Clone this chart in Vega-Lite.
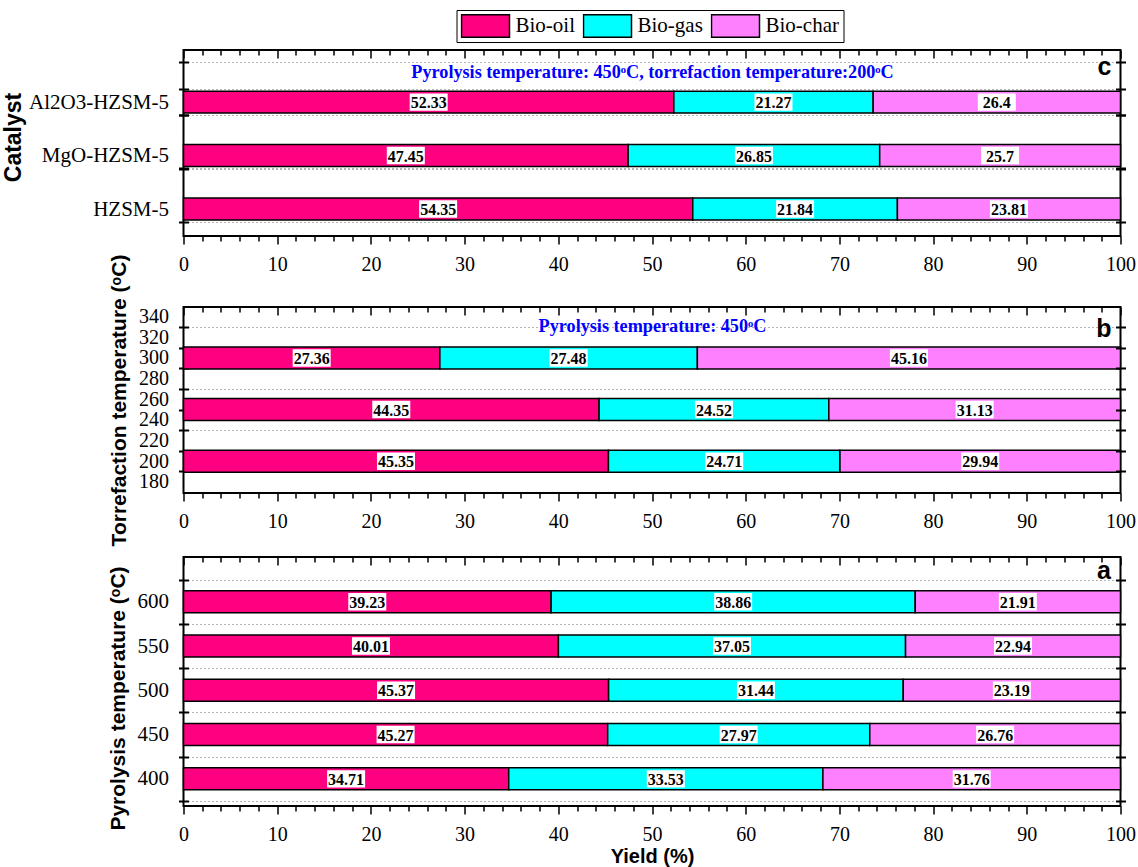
{
  "$schema": "https://vega.github.io/schema/vega-lite/v6.json",
  "background": "white",
  "padding": {"left": 1.5, "top": 9, "right": 2, "bottom": 2},
  "datasets": {
    "cat": [
      {"catalyst": "Al2O3-HZSM-5", "product": "Bio-oil", "yield": 52.33},
      {"catalyst": "Al2O3-HZSM-5", "product": "Bio-gas", "yield": 21.27},
      {"catalyst": "Al2O3-HZSM-5", "product": "Bio-char", "yield": 26.4},
      {"catalyst": "MgO-HZSM-5", "product": "Bio-oil", "yield": 47.45},
      {"catalyst": "MgO-HZSM-5", "product": "Bio-gas", "yield": 26.85},
      {"catalyst": "MgO-HZSM-5", "product": "Bio-char", "yield": 25.7},
      {"catalyst": "HZSM-5", "product": "Bio-oil", "yield": 54.35},
      {"catalyst": "HZSM-5", "product": "Bio-gas", "yield": 21.84},
      {"catalyst": "HZSM-5", "product": "Bio-char", "yield": 23.81}
    ],
    "torr": [
      {"T": 200, "product": "Bio-oil", "yield": 45.35},
      {"T": 200, "product": "Bio-gas", "yield": 24.71},
      {"T": 200, "product": "Bio-char", "yield": 29.94},
      {"T": 250, "product": "Bio-oil", "yield": 44.35},
      {"T": 250, "product": "Bio-gas", "yield": 24.52},
      {"T": 250, "product": "Bio-char", "yield": 31.13},
      {"T": 300, "product": "Bio-oil", "yield": 27.36},
      {"T": 300, "product": "Bio-gas", "yield": 27.48},
      {"T": 300, "product": "Bio-char", "yield": 45.16}
    ],
    "pyro": [
      {"T": 400, "product": "Bio-oil", "yield": 34.71},
      {"T": 400, "product": "Bio-gas", "yield": 33.53},
      {"T": 400, "product": "Bio-char", "yield": 31.76},
      {"T": 450, "product": "Bio-oil", "yield": 45.27},
      {"T": 450, "product": "Bio-gas", "yield": 27.97},
      {"T": 450, "product": "Bio-char", "yield": 26.76},
      {"T": 500, "product": "Bio-oil", "yield": 45.37},
      {"T": 500, "product": "Bio-gas", "yield": 31.44},
      {"T": 500, "product": "Bio-char", "yield": 23.19},
      {"T": 550, "product": "Bio-oil", "yield": 40.01},
      {"T": 550, "product": "Bio-gas", "yield": 37.05},
      {"T": 550, "product": "Bio-char", "yield": 22.94},
      {"T": 600, "product": "Bio-oil", "yield": 39.23},
      {"T": 600, "product": "Bio-gas", "yield": 38.86},
      {"T": 600, "product": "Bio-char", "yield": 21.91}
    ]
  },
  "bounds": "flush",
  "spacing": 71,
  "vconcat": [
    {
      "width": 937,
      "height": 186,
      "data": {"name": "cat"},
      "resolve": {"axis": {"x": "independent", "y": "independent"}},
      "layer": [
        {
          "mark": {"type": "bar", "stroke": "black", "strokeWidth": 1.5, "height": {"band": 0.82}},
          "encoding": {
            "x": {"field": "yield", "type": "quantitative", "stack": "zero",
              "scale": {"domain": [0, 100], "nice": false},
              "axis": {"orient": "bottom", "values": [0,2,4,6,8,10,12,14,16,18,20,22,24,26,28,30,32,34,36,38,40,42,44,46,48,50,52,54,56,58,60,62,64,66,68,70,72,74,76,78,80,82,84,86,88,90,92,94,96,98,100],
                "tickSize": {"condition": {"test": "datum.value % 10 === 0", "value": 8}, "value": 5},
                "tickWidth": 1.5, "labelExpr": "datum.value % 10 === 0 ? datum.label : ''",
                "labelFontSize": 20, "labelPadding": 10, "grid": false, "title": null, "zindex": 1}},
            "y": {"field": "catalyst", "type": "nominal", "sort": ["Al2O3-HZSM-5", "MgO-HZSM-5", "HZSM-5"],
              "scale": {"paddingInner": 0.5, "paddingOuter": 0.49, "align": 0.74},
              "axis": {"orient": "left", "tickBand": "extent", "offset": -5, "tickSize": 10, "tickWidth": 2,
                "labelFontSize": 21, "labelPadding": 10, "grid": true,
                "title": "Catalyst", "titleFontSize": 23, "titlePadding": 3, "titleY": 87}},
            "color": {"field": "product", "type": "nominal",
              "scale": {"domain": ["Bio-oil", "Bio-gas", "Bio-char"], "range": ["#FF0080", "#00FFFF", "#FF80FF"]},
              "legend": {"orient": "none", "legendX": 273, "legendY": -40, "direction": "horizontal", "title": null,
                "symbolType": "M-1,-0.47H1V0.47H-1Z", "symbolSize": 2304, "clipHeight": 24, "symbolStrokeColor": "black",
                "symbolStrokeWidth": 1.5, "symbolOpacity": 1, "labelFont": "Liberation Serif", "labelFontSize": 21,
                "labelColor": "black", "labelOffset": 5, "columnPadding": 7, "padding": 4,
                "strokeColor": "black", "labelLimit": 300}},
            "order": {"field": "product", "sort": "descending"}
          }
        },
        {
          "mark": {"type": "point", "shape": "M-1,-0.46H1V0.46H-1Z", "size": 1444, "filled": true, "color": "white", "opacity": 1, "strokeWidth": 0},
          "encoding": {
            "x": {"field": "yield", "type": "quantitative", "stack": "zero", "bandPosition": 0.5,
              "axis": {"orient": "top", "values": [0,2,4,6,8,10,12,14,16,18,20,22,24,26,28,30,32,34,36,38,40,42,44,46,48,50,52,54,56,58,60,62,64,66,68,70,72,74,76,78,80,82,84,86,88,90,92,94,96,98,100],
                "tickSize": {"condition": {"test": "datum.value % 10 === 0", "value": -8}, "value": -5},
                "tickWidth": 1.5, "labels": false, "grid": false, "zindex": 1,
                "title": "Pyrolysis temperature: 450ᵒC, torrefaction temperature:200ᵒC",
                "titleColor": "#0000FF", "titleFont": "Liberation Serif", "titleFontSize": 18.2,
                "titleY": 22.5, "titleBaseline": "middle"}},
            "y": {"field": "catalyst", "type": "nominal", "sort": ["Al2O3-HZSM-5", "MgO-HZSM-5", "HZSM-5"],
              "axis": {"orient": "right", "tickBand": "extent", "offset": -5, "tickSize": 10, "tickWidth": 2,
                "labels": false, "grid": false, "zindex": 1,
                "title": "c", "titleAngle": 0, "titleFontSize": 25, "titleX": -11.5, "titleY": 24,
                "titleBaseline": "alphabetic", "titleAlign": "center"}},
            "detail": {"field": "product"},
            "order": {"field": "product", "sort": "descending"}
          }
        },
        {
          "mark": {"type": "text", "font": "Liberation Serif", "fontWeight": "bold", "fontSize": 16, "color": "black", "baseline": "middle", "dy": 1},
          "encoding": {
            "x": {"field": "yield", "type": "quantitative", "stack": "zero", "bandPosition": 0.5, "axis": null},
            "y": {"field": "catalyst", "type": "nominal", "sort": ["Al2O3-HZSM-5", "MgO-HZSM-5", "HZSM-5"],
              "axis": {"orient": "left", "bandPosition": -1, "offset": -5, "tickSize": 10, "tickWidth": 2,
                "labels": false, "grid": true, "title": null}},
            "detail": {"field": "product"},
            "order": {"field": "product", "sort": "descending"},
            "text": {"field": "yield", "type": "nominal"}
          }
        },
        {
          "mark": {"type": "point", "opacity": 0},
          "encoding": {
            "y": {"field": "catalyst", "type": "nominal", "sort": ["Al2O3-HZSM-5", "MgO-HZSM-5", "HZSM-5"],
              "axis": {"orient": "right", "bandPosition": -1, "offset": -5, "tickSize": 10, "tickWidth": 2,
                "labels": false, "grid": false, "title": null, "zindex": 1}}
          }
        }
      ]
    },
    {
      "bounds": "flush",
      "spacing": 64,
      "vconcat": [
        {
          "width": 937,
          "height": 186,
          "data": {"name": "torr"},
          "resolve": {"axis": {"x": "independent", "y": "independent"}},
          "layer": [
            {
              "mark": {"type": "bar", "orient": "horizontal", "stroke": "black", "strokeWidth": 1.5, "height": 22},
              "encoding": {
                "x": {"field": "yield", "type": "quantitative", "stack": "zero",
                  "scale": {"domain": [0, 100], "nice": false},
                  "axis": {"orient": "bottom", "values": [0,2,4,6,8,10,12,14,16,18,20,22,24,26,28,30,32,34,36,38,40,42,44,46,48,50,52,54,56,58,60,62,64,66,68,70,72,74,76,78,80,82,84,86,88,90,92,94,96,98,100],
                    "tickSize": {"condition": {"test": "datum.value % 10 === 0", "value": 8}, "value": 5},
                    "tickWidth": 1.5, "labelExpr": "datum.value % 10 === 0 ? datum.label : ''",
                    "labelFontSize": 20, "labelPadding": 10, "grid": false, "title": null, "zindex": 1}},
                "y": {"field": "T", "type": "quantitative",
                  "scale": {"domain": [174, 344.5], "nice": false, "zero": false},
                  "axis": {"orient": "left", "values": [180,190,200,210,220,230,240,250,260,270,280,290,300,310,320,330,340],
                    "offset": -5, "tickSize": 10, "tickWidth": 2,
                    "tickOpacity": {"condition": {"test": "datum.value % 20 === 10", "value": 1}, "value": 0},
                    "labelExpr": "datum.value % 20 === 0 ? datum.label : ''",
                    "labelFontSize": 20, "labelPadding": 10, "grid": true,
                    "gridOpacity": {"condition": {"test": "datum.value % 20 === 10", "value": 1}, "value": 0},
                    "title": "Torrefaction temperature (ᵒC)", "titleFontSize": 21, "titlePadding": 9}},
                "color": {"field": "product", "type": "nominal",
                  "scale": {"domain": ["Bio-oil", "Bio-gas", "Bio-char"], "range": ["#FF0080", "#00FFFF", "#FF80FF"]}},
                "order": {"field": "product", "sort": "descending"}
              }
            },
            {
              "mark": {"type": "point", "shape": "M-1,-0.46H1V0.46H-1Z", "size": 1444, "filled": true, "color": "white", "opacity": 1, "strokeWidth": 0},
              "encoding": {
                "x": {"field": "yield", "type": "quantitative", "stack": "zero", "bandPosition": 0.5,
                  "axis": {"orient": "top", "values": [0,2,4,6,8,10,12,14,16,18,20,22,24,26,28,30,32,34,36,38,40,42,44,46,48,50,52,54,56,58,60,62,64,66,68,70,72,74,76,78,80,82,84,86,88,90,92,94,96,98,100],
                    "tickSize": {"condition": {"test": "datum.value % 10 === 0", "value": -8}, "value": -5},
                    "tickWidth": 1.5, "labels": false, "grid": false, "zindex": 1,
                    "title": "Pyrolysis temperature: 450ᵒC",
                    "titleColor": "#0000FF", "titleFont": "Liberation Serif", "titleFontSize": 18.2,
                    "titleY": 19, "titleBaseline": "middle"}},
                "y": {"field": "T", "type": "quantitative",
                  "axis": {"orient": "right", "values": [180,190,200,210,220,230,240,250,260,270,280,290,300,310,320,330,340],
                    "offset": -5, "tickSize": 10, "tickWidth": 2,
                    "tickOpacity": {"condition": {"test": "datum.value % 20 === 10", "value": 1}, "value": 0},
                    "labels": false, "grid": false, "zindex": 1,
                    "title": "b", "titleAngle": 0, "titleFontSize": 25, "titleX": -12, "titleY": 29.7,
                    "titleBaseline": "alphabetic", "titleAlign": "center"}},
                "detail": {"field": "product"},
                "order": {"field": "product", "sort": "descending"}
              }
            },
            {
              "mark": {"type": "text", "font": "Liberation Serif", "fontWeight": "bold", "fontSize": 16, "color": "black", "baseline": "middle", "dy": 1},
              "encoding": {
                "x": {"field": "yield", "type": "quantitative", "stack": "zero", "bandPosition": 0.5, "axis": null},
                "y": {"field": "T", "type": "quantitative", "axis": null},
                "detail": {"field": "product"},
                "order": {"field": "product", "sort": "descending"},
                "text": {"field": "yield", "type": "nominal"}
              }
            }
          ]
        },
        {
          "width": 937,
          "height": 249,
          "data": {"name": "pyro"},
          "resolve": {"axis": {"x": "independent", "y": "independent"}},
          "layer": [
            {
              "mark": {"type": "bar", "orient": "horizontal", "stroke": "black", "strokeWidth": 1.5, "height": 22},
              "encoding": {
                "x": {"field": "yield", "type": "quantitative", "stack": "zero",
                  "scale": {"domain": [0, 100], "nice": false},
                  "axis": {"orient": "bottom", "values": [0,2,4,6,8,10,12,14,16,18,20,22,24,26,28,30,32,34,36,38,40,42,44,46,48,50,52,54,56,58,60,62,64,66,68,70,72,74,76,78,80,82,84,86,88,90,92,94,96,98,100],
                    "tickSize": {"condition": {"test": "datum.value % 10 === 0", "value": 8}, "value": 5},
                    "tickWidth": 1.5, "labelExpr": "datum.value % 10 === 0 ? datum.label : ''",
                    "labelFontSize": 20, "labelPadding": 10, "grid": false, "zindex": 1,
                    "title": "Yield (%)", "titleFontSize": 20, "titlePadding": 2}},
                "y": {"field": "T", "type": "quantitative",
                  "scale": {"domain": [375, 645], "nice": false, "zero": false},
                  "axis": {"orient": "left", "values": [375,400,425,450,475,500,525,550,575,600,625],
                    "offset": -5, "tickSize": 10, "tickWidth": 2,
                    "tickOpacity": {"condition": {"test": "datum.value % 50 === 25", "value": 1}, "value": 0},
                    "labelExpr": "datum.value % 50 === 0 ? datum.label : ''",
                    "labelFontSize": 21, "labelPadding": 10, "grid": true,
                    "gridOpacity": {"condition": {"test": "datum.value % 50 === 25", "value": 1}, "value": 0},
                    "title": "Pyrolysis temperature (ᵒC)", "titleFontSize": 21, "titlePadding": 9, "titleY": 141}},
                "color": {"field": "product", "type": "nominal",
                  "scale": {"domain": ["Bio-oil", "Bio-gas", "Bio-char"], "range": ["#FF0080", "#00FFFF", "#FF80FF"]}},
                "order": {"field": "product", "sort": "descending"}
              }
            },
            {
              "mark": {"type": "point", "shape": "M-1,-0.46H1V0.46H-1Z", "size": 1444, "filled": true, "color": "white", "opacity": 1, "strokeWidth": 0},
              "encoding": {
                "x": {"field": "yield", "type": "quantitative", "stack": "zero", "bandPosition": 0.5,
                  "axis": {"orient": "top", "values": [0,2,4,6,8,10,12,14,16,18,20,22,24,26,28,30,32,34,36,38,40,42,44,46,48,50,52,54,56,58,60,62,64,66,68,70,72,74,76,78,80,82,84,86,88,90,92,94,96,98,100],
                    "tickSize": {"condition": {"test": "datum.value % 10 === 0", "value": -8}, "value": -5},
                    "tickWidth": 1.5, "labels": false, "grid": false, "zindex": 1, "title": null}},
                "y": {"field": "T", "type": "quantitative",
                  "axis": {"orient": "right", "values": [375,400,425,450,475,500,525,550,575,600,625],
                    "offset": -5, "tickSize": 10, "tickWidth": 2,
                    "tickOpacity": {"condition": {"test": "datum.value % 50 === 25", "value": 1}, "value": 0},
                    "labels": false, "grid": false, "zindex": 1,
                    "title": "a", "titleAngle": 0, "titleFontSize": 25, "titleX": -12, "titleY": 21.3,
                    "titleBaseline": "alphabetic", "titleAlign": "center"}},
                "detail": {"field": "product"},
                "order": {"field": "product", "sort": "descending"}
              }
            },
            {
              "mark": {"type": "text", "font": "Liberation Serif", "fontWeight": "bold", "fontSize": 16, "color": "black", "baseline": "middle", "dy": 1},
              "encoding": {
                "x": {"field": "yield", "type": "quantitative", "stack": "zero", "bandPosition": 0.5, "axis": null},
                "y": {"field": "T", "type": "quantitative", "axis": null},
                "detail": {"field": "product"},
                "order": {"field": "product", "sort": "descending"},
                "text": {"field": "yield", "type": "nominal"}
              }
            }
          ]
        }
      ]
    }
  ],
  "config": {
    "view": {"stroke": "black", "strokeWidth": 2},
    "axis": {
      "domain": false,
      "tickColor": "black",
      "labelColor": "black",
      "titleColor": "black",
      "labelFont": "Liberation Serif",
      "titleFont": "Liberation Sans",
      "titleFontWeight": "bold",
      "gridColor": "#b4b4b4",
      "gridDash": [2, 2],
      "gridWidth": 1,
      "labelOverlap": false,
      "labelFlush": false
    }
  }
}
